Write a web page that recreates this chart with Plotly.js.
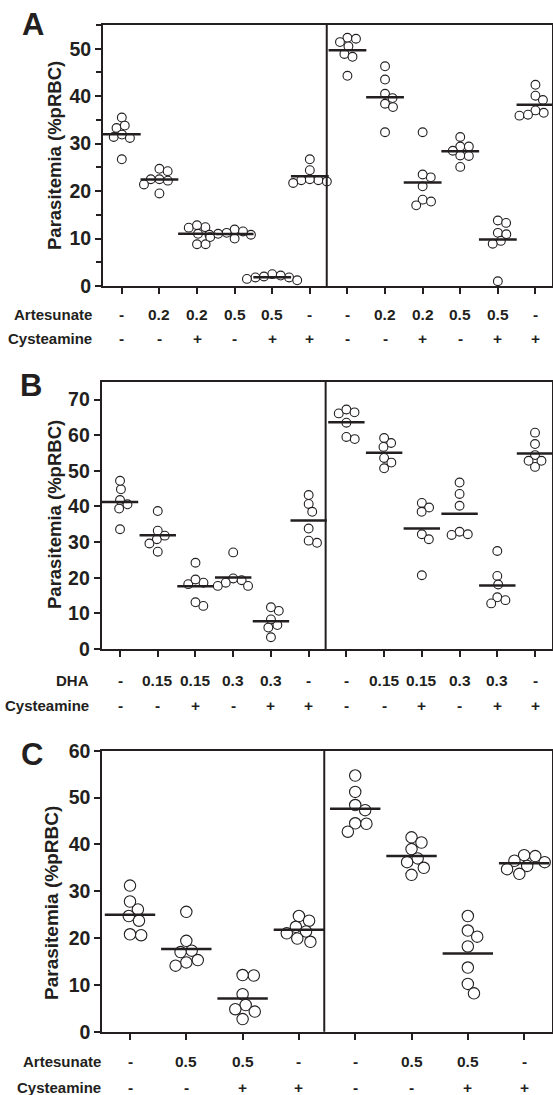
<!DOCTYPE html>
<html>
<head>
<meta charset="utf-8">
<script src="https://cdn.plot.ly/plotly-3.0.1.min.js"></script>
<style>
html,body{margin:0;padding:0;background:#fff;}
#chart{width:553px;height:1095px;}
</style>
</head>
<body>
<div id="chart"></div>
<script>
// ---------------- DATA ----------------
// Panel A: Artesunate / Cysteamine, two experiments, 7 mice per group
const artesunateA = ['-','0.2','0.2','0.5','0.5','-','-','0.2','0.2','0.5','0.5','-'];
const cysteamineA = ['-','-','+','-','+','+','-','-','+','-','+','+'];
const valuesA = [
  [31.4, 33.3, 35.5, 33.8, 31.9, 31.2, 26.7],
  [24.7, 22.5, 24.2, 22.5, 22.2, 21.4, 19.5],
  [12.4, 10.8, 12.3, 12.8, 11.0, 8.8, 8.8],
  [10.8, 11.9, 11.5, 11.2, 10.3, 10.0, 11.0],
  [1.8, 2.5, 2.0, 1.5, 1.8, 1.2, 2.2],
  [26.7, 24.4, 22.3, 22.0, 22.3, 21.7, 22.5],
  [52.3, 51.4, 52.1, 50.5, 48.9, 48.3, 44.3],
  [46.3, 43.5, 40.5, 39.6, 38.4, 37.7, 32.4],
  [32.4, 22.9, 23.5, 21.0, 18.2, 17.8, 17.0],
  [31.4, 29.4, 29.4, 27.5, 27.4, 28.5, 25.1],
  [13.8, 13.3, 11.2, 10.9, 9.5, 8.9, 1.0],
  [42.4, 40.1, 39.2, 36.5, 37.0, 35.9, 36.1]
];
// Panel B: DHA / Cysteamine, 6 mice per group
const dhaB = ['-','0.15','0.15','0.3','0.3','-','-','0.15','0.15','0.3','0.3','-'];
const cysteamineB = ['-','-','+','-','+','+','-','-','+','-','+','+'];
const valuesB = [
  [40.6, 44.8, 47.2, 39.4, 41.8, 33.6],
  [33.2, 38.7, 30.8, 31.8, 29.6, 27.3],
  [18.6, 24.2, 18.2, 19.5, 12.1, 13.1],
  [27.1, 19.8, 18.6, 19.3, 17.7, 17.7],
  [10.7, 6.7, 8.3, 11.7, 6.0, 3.3],
  [43.2, 40.7, 38.5, 33.8, 29.8, 30.4],
  [66.1, 67.2, 66.4, 63.5, 58.9, 59.5],
  [57.8, 56.7, 59.2, 53.6, 52.3, 50.7],
  [41.0, 39.7, 38.5, 32.2, 30.8, 20.7],
  [46.7, 43.5, 40.2, 32.9, 32.0, 32.2],
  [27.5, 20.5, 18.1, 14.5, 13.7, 12.8],
  [60.7, 57.5, 54.4, 52.8, 51.1, 52.8]
];
// Panel C: Artesunate / Cysteamine, 7 mice per group
const artesunateC = ['-','0.5','0.5','-','-','0.5','0.5','-'];
const cysteamineC = ['-','-','+','+','-','-','+','+'];
const valuesC = [
  [26.1, 31.2, 27.8, 23.7, 24.7, 20.6, 20.8],
  [25.6, 19.4, 17.3, 17.0, 15.3, 14.8, 14.1],
  [12.0, 12.1, 8.0, 5.7, 4.8, 4.3, 2.7],
  [24.7, 23.7, 22.4, 21.4, 21.0, 19.2, 19.9],
  [54.7, 51.2, 48.4, 47.3, 44.5, 44.4, 42.7],
  [41.5, 40.4, 39.0, 37.0, 36.2, 35.0, 33.5],
  [24.7, 21.6, 20.3, 18.2, 13.7, 10.2, 8.2],
  [37.7, 37.5, 36.2, 36.5, 35.4, 34.7, 33.7]
];
const yTitle = 'Parasitemia (%pRBC)';

// ---------------- LAYOUT / STYLE ----------------
const W = 553, H = 1095;
const INK = '#231f20';
const FONT = 'Liberation Sans, Arial, Helvetica, sans-serif';

// pixel boxes of the three plot areas
const panels = [
  {id:'A', vals:valuesA, row1:artesunateA, row2:cysteamineA, row1Name:'Artesunate', row2Name:'Cysteamine',
   box:{l:103, r:552, t:25, b:286}, xr:[-0.5, 11.44], yr:[0,55], minor:true,
   msize:8.8, mdist:8.6, meanW:27, row1Y:314, row2Y:339, labRight:94,
   letter:{x:33, y:24}, titleX:54.5, titleY:155.5, titleSize:18.5},
  {id:'B', vals:valuesB, row1:dhaB, row2:cysteamineB, row1Name:'DHA', row2Name:'Cysteamine',
   box:{l:101.7, r:552, t:381.7, b:649}, xr:[-0.486, 11.45], yr:[0,75], minor:false,
   msize:8.8, mdist:8.6, meanW:26, row1Y:680, row2Y:705, labRight:91,
   letter:{x:31, y:386}, titleX:54, titleY:515, titleSize:18.5},
  {id:'C', vals:valuesC, row1:artesunateC, row2:cysteamineC, row1Name:'Artesunate', row2Name:'Cysteamine',
   box:{l:102.3, r:552, t:750.7, b:1031.7}, xr:[-0.492, 7.495], yr:[0,60], minor:false,
   msize:11.4, mdist:11.2, meanW:36, row1Y:1061, row2Y:1087, labRight:103,
   letter:{x:32, y:754}, titleX:51, titleY:903, titleSize:19}
];

function mean(a){ return a.reduce((s,v)=>s+v,0)/a.length; }

// simple beeswarm: horizontal spread (in px) so circles do not pile up
function swarm(vals, pxPerY, minDist){
  const idx = vals.map((v,i)=>i).sort((a,b)=>vals[b]-vals[a]);
  const placed = []; const out = new Array(vals.length).fill(0);
  idx.forEach(i=>{
    const y = vals[i]*pxPerY;
    const cands = [0];
    placed.forEach(p=>{
      const dy = Math.abs(p.y - y);
      if (dy < minDist){
        const dx = Math.sqrt(minDist*minDist - dy*dy);
        cands.push(p.x + dx, p.x - dx);
      }
    });
    cands.sort((a,b)=>Math.abs(a)-Math.abs(b) || b-a);
    let chosen = 0;
    for (const c of cands){
      const ok = placed.every(p=>{
        const dx = p.x - c, dy = p.y - y;
        return dx*dx + dy*dy >= minDist*minDist - 1e-6;
      });
      if (ok){ chosen = c; break; }
    }
    placed.push({x:chosen, y:y});
    out[i] = chosen;
  });
  return out;
}

const traces = [];
const layout = {
  width: W, height: H,
  margin: {l:0, r:0, t:0, b:0},
  paper_bgcolor: '#fff', plot_bgcolor: '#fff',
  showlegend: false,
  font: {family: FONT, color: INK},
  annotations: [], shapes: []
};

panels.forEach((p, k)=>{
  const sfx = k === 0 ? '' : String(k+1);
  const xa = 'x' + sfx, ya = 'y' + sfx;
  const n = p.vals.length;
  const pxPerX = (p.box.r - p.box.l) / (p.xr[1] - p.xr[0]);
  const pxPerY = (p.box.b - p.box.t) / (p.yr[1] - p.yr[0]);

  // data points
  const xs = [], ys = [];
  p.vals.forEach((g, i)=>{
    const off = swarm(g, pxPerY, p.mdist);
    g.forEach((v, j)=>{ xs.push(i + off[j]/pxPerX); ys.push(v); });
  });
  traces.push({
    type:'scatter', mode:'markers', x:xs, y:ys, xaxis:xa, yaxis:ya,
    cliponaxis:false, hoverinfo:'y',
    marker:{symbol:'circle', size:p.msize, color:'#ffffff', line:{color:INK, width:1.1}}
  });
  // group means
  traces.push({
    type:'scatter', mode:'markers', xaxis:xa, yaxis:ya, cliponaxis:false,
    x: p.vals.map((g,i)=>i), y: p.vals.map(mean), hoverinfo:'y',
    marker:{symbol:'line-ew', size:p.meanW, color:INK, line:{color:INK, width:2.5}}
  });

  layout['xaxis' + sfx] = {
    domain:[p.box.l/W, p.box.r/W], range:p.xr, anchor:ya,
    showgrid:false, zeroline:false, showline:true, linecolor:INK, linewidth:2, mirror:true,
    tickmode:'array', tickvals:p.vals.map((g,i)=>i), ticks:'outside', ticklen:6, tickwidth:2,
    tickcolor:INK, showticklabels:false, fixedrange:true
  };
  const yax = {
    domain:[1 - p.box.b/H, 1 - p.box.t/H], range:p.yr, anchor:xa,
    showgrid:false, zeroline:false, showline:true, linecolor:INK, linewidth:2, mirror:true,
    tickmode:'linear', tick0:0, dtick:10, ticks:'outside', ticklen:6, tickwidth:2, tickcolor:INK,
    tickfont:{family:FONT, size:19.5, weight:'bold', color:INK}, ticklabelstandoff:0, fixedrange:true
  };
  if (p.minor) yax.minor = {dtick:5, ticks:'outside', ticklen:5, tickwidth:2, tickcolor:INK, showgrid:false};
  layout['yaxis' + sfx] = yax;

  // divider between the two experiments
  layout.shapes.push({type:'line', xref:xa, yref:ya + ' domain', x0:n/2 - 0.55, x1:n/2 - 0.55, y0:0, y1:1,
    line:{color:INK, width:2}});

  // panel letter
  layout.annotations.push({text:'<b>' + p.id + '</b>', xref:'paper', yref:'paper',
    x:p.letter.x/W, y:1 - p.letter.y/H, xanchor:'center', yanchor:'middle', showarrow:false,
    font:{family:FONT, size:31, color:INK}});
  // y title
  layout.annotations.push({text:'<b>' + yTitle + '</b>', xref:'paper', yref:'paper', textangle:-90,
    x:p.titleX/W, y:1 - p.titleY/H, xanchor:'center', yanchor:'middle', showarrow:false,
    font:{family:FONT, size:p.titleSize, color:INK}});
  // treatment rows
  [[p.row1Name, p.row1, p.row1Y], [p.row2Name, p.row2, p.row2Y]].forEach(([name, labs, yy])=>{
    layout.annotations.push({text:'<b>' + name + '</b>', xref:'paper', yref:'paper',
      x:p.labRight/W, y:1 - yy/H, xanchor:'right', yanchor:'middle', showarrow:false,
      font:{family:FONT, size:15, color:INK}});
    labs.forEach((t, i)=>{
      layout.annotations.push({text:'<b>' + t + '</b>', xref:xa, yref:'paper',
        x:i, y:1 - yy/H, xanchor:'center', yanchor:'middle', showarrow:false,
        font:{family:FONT, size:15.5, color:INK}});
    });
  });
});

Plotly.newPlot('chart', traces, layout, {staticPlot:true, displayModeBar:false});
</script>
</body>
</html>
